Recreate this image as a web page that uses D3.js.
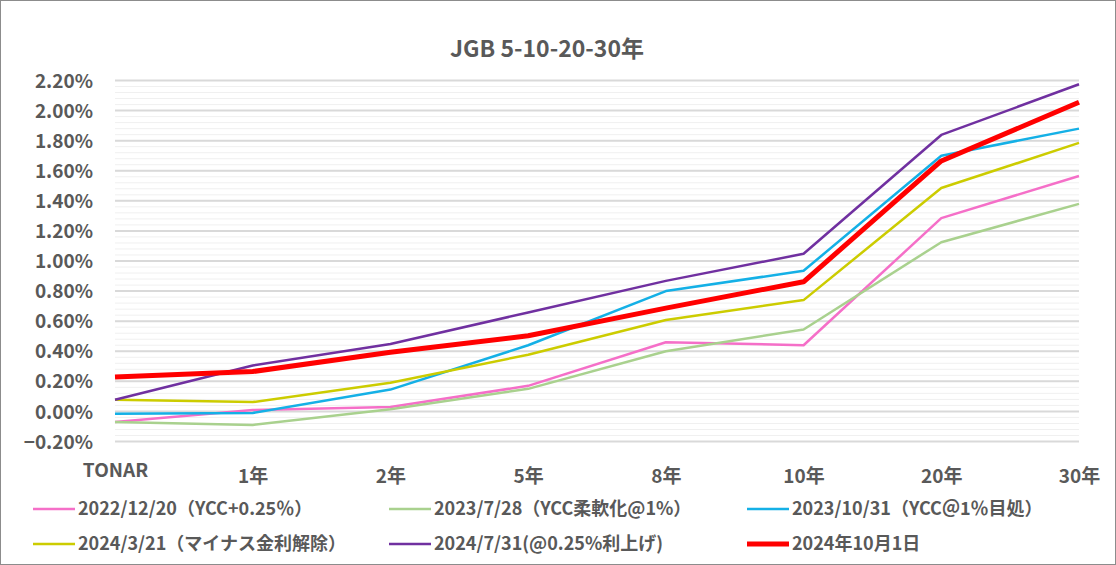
<!DOCTYPE html>
<html>
<head>
<meta charset="utf-8">
<script src="https://cdn.jsdelivr.net/npm/d3@7"></script>
<style>
body { margin:0; background:#fff; }
text { font-family: "Noto Sans CJK JP", "Noto Sans", sans-serif; }
</style>
</head>
<body>
<svg id="chart" width="1116" height="565"></svg>
<script>
var categories = ["TONAR", "1年", "2年", "5年", "8年", "10年", "20年", "30年"];

var seriesNames = [
    "2022/12/20（YCC+0.25％）",
    "2023/7/28（YCC柔軟化@1%）",
    "2023/10/31（YCC＠1％目処）",
    "2024/3/21（マイナス金利解除）",
    "2024/7/31(@0.25%利上げ)",
    "2024年10月1日"
];

var yields20221220 = [-0.07, 0.01, 0.03, 0.17, 0.46, 0.44, 1.285, 1.565];
var yields20230728 = [-0.07, -0.09, 0.015, 0.15, 0.40, 0.545, 1.125, 1.38];
var yields20231031 = [-0.015, -0.01, 0.145, 0.44, 0.80, 0.935, 1.70, 1.88];
var yields20240321 = [0.077, 0.062, 0.19, 0.377, 0.608, 0.74, 1.485, 1.785];
var yields20240731 = [0.077, 0.305, 0.448, 0.658, 0.868, 1.048, 1.838, 2.175];
var yields20241001 = [0.228, 0.265, 0.393, 0.503, 0.687, 0.862, 1.665, 2.055];

var yTicks = [-0.2, 0, 0.2, 0.4, 0.6, 0.8, 1.0, 1.2, 1.4, 1.6, 1.8, 2.0, 2.2];

var series = [
    {name: seriesNames[0], values: yields20221220, color: "#F56FC8", width: 2.5},
    {name: seriesNames[1], values: yields20230728, color: "#A9D18E", width: 2.5},
    {name: seriesNames[2], values: yields20231031, color: "#14B0E6", width: 2.5},
    {name: seriesNames[3], values: yields20240321, color: "#CCCC00", width: 2.5},
    {name: seriesNames[4], values: yields20240731, color: "#7030A0", width: 2.5},
    {name: seriesNames[5], values: yields20241001, color: "#FF0000", width: 5}
];

var svg = d3.select("#chart");

// border round the whole chart
svg.append("rect")
    .attr("x", 0.5).attr("y", 0.5)
    .attr("width", 1115).attr("height", 564)
    .attr("fill", "#fff")
    .attr("stroke", "#8c8c8c");

var xScale = d3.scalePoint()
    .domain(categories)
    .range([115, 1079]);

var yScale = d3.scaleLinear()
    .domain([-0.2, 2.2])
    .range([441.5, 80.5]);

// minor grid
var minor = d3.range(-0.2, 2.2001, 0.04);
svg.append("g")
    .selectAll("line")
    .data(minor)
    .enter()
    .append("line")
    .attr("x1", 115).attr("x2", 1079)
    .attr("y1", function(d){ return yScale(d); })
    .attr("y2", function(d){ return yScale(d); })
    .attr("stroke", "#F0F0F0")
    .attr("stroke-width", 1);

// major grid
svg.append("g")
    .selectAll("line")
    .data(yTicks)
    .enter()
    .append("line")
    .attr("x1", 115).attr("x2", 1079)
    .attr("y1", function(d){ return yScale(d); })
    .attr("y2", function(d){ return yScale(d); })
    .attr("stroke", "#D9D9D9")
    .attr("stroke-width", 2);

// y axis labels
var yAxis = d3.axisLeft(yScale)
    .tickValues(yTicks)
    .tickSize(0)
    .tickPadding(0)
    .tickFormat(function(d){ return d3.format(".2f")(d) + "%"; });

var yG = svg.append("g")
    .attr("transform", "translate(93,0)")
    .call(yAxis);
yG.select(".domain").remove();
yG.selectAll("text")
    .attr("fill", "#595959")
    .attr("font-size", 19)
    .attr("font-weight", "bold")
    .attr("dy", "0.35em");

// x axis labels
var xAxis = d3.axisBottom(xScale)
    .tickSize(0)
    .tickPadding(0);

var xG = svg.append("g")
    .attr("transform", "translate(0,0)")
    .call(xAxis);
xG.select(".domain").remove();
xG.selectAll("text")
    .attr("y", function(d, i){ return i == 0 ? 477 : 483; })
    .attr("dy", 0)
    .attr("fill", "#595959")
    .attr("font-size", 19)
    .attr("font-weight", "bold");

// lines
var line = d3.line()
    .x(function(d, i){ return xScale(categories[i]); })
    .y(function(d){ return yScale(d); });

svg.append("g")
    .selectAll("path")
    .data(series)
    .enter()
    .append("path")
    .attr("d", function(s){ return line(s.values); })
    .attr("fill", "none")
    .attr("stroke", function(s){ return s.color; })
    .attr("stroke-width", function(s){ return s.width; })
    .attr("stroke-linejoin", "round");

// title
svg.append("text")
    .attr("x", 547)
    .attr("y", 57)
    .attr("text-anchor", "middle")
    .attr("fill", "#595959")
    .attr("font-size", 23)
    .attr("font-weight", "bold")
    .text("JGB 5-10-20-30年");

// legend
var legendX = [33, 389, 747];
var legendY = [509, 544];

var legend = svg.append("g")
    .selectAll("g")
    .data(series)
    .enter()
    .append("g")
    .attr("transform", function(s, i){
        return "translate(" + legendX[i % 3] + "," + legendY[Math.floor(i / 3)] + ")";
    });

legend.append("line")
    .attr("x1", 0).attr("x2", 42)
    .attr("y1", 0).attr("y2", 0)
    .attr("stroke", function(s){ return s.color; })
    .attr("stroke-width", function(s){ return s.width; });

legend.append("text")
    .attr("x", 45)
    .attr("y", 0)
    .attr("dy", "0.35em")
    .attr("fill", "#595959")
    .attr("font-size", 18)
    .attr("font-weight", "bold")
    .text(function(s){ return s.name; });
</script>
</body>
</html>
